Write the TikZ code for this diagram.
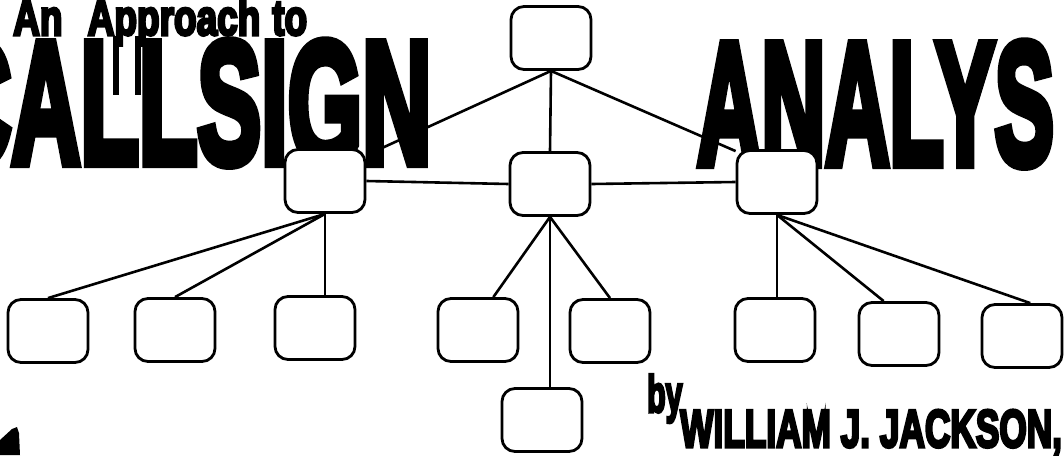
\documentclass[tikz,border=0pt]{standalone}
\usepackage{fontspec}
\usepackage{graphicx}
\newfontfamily\headfont[FakeBold=6]{Liberation Sans}
\pgfdeclarelayer{back}
\pgfsetlayers{back,main}
\tikzset{
  box/.style={draw, fill=white, line width=2.8pt, rounded corners=13pt, minimum width=80pt, minimum height=63pt, inner sep=0pt},
  link/.style={line width=2.6pt},
  head/.style={inner sep=0pt, anchor=base west}
}
\newcommand{\headtext}[3]{{\headfont\bfseries\fontsize{#1}{#1}\selectfont\scalebox{#2}[1]{#3}}}

\begin{document}
\begin{tikzpicture}[x=1pt,y=-1pt]
\useasboundingbox (0,0) rectangle (1064,455);

% Boxes
\node[box] (top) at (551,38) {};
\node[box] (midL) at (325,181) {};
\node[box] (midC) at (550,184) {};
\node[box] (midR) at (777,182) {};
\node[box] (B1) at (48,331) {};
\node[box] (B2) at (175,330) {};
\node[box] (B3) at (315,328) {};
\node[box] (B4) at (478,330) {};
\node[box] (B5) at (610,331) {};
\node[box] (B6) at (775,330) {};
\node[box] (B7) at (899,334) {};
\node[box] (B8) at (1022,336) {};
\node[box] (low) at (542,420) {};

\begin{pgfonlayer}{back}
\clip (0,0) rectangle (1064,455);
% Links
\draw[link] (top.south) -- ([yshift=-7pt]midL.north east);
\draw[link] (top.south) -- (midC.north);
\draw[link] (top.south) -- ([yshift=-2pt]midR.north west);
\draw[link] (midL.east) -- (midC.west);
\draw[link] (midC.east) -- (midR.west);
\draw[link] (midL.south) -- (B1.north);
\draw[link] (midL.south) -- (B2.north);
\draw[link] (midL.south) -- (midL.south |- B3.north);
\draw[link] (midC.south) -- (B4.65);
\draw[link] (midC.south) -- (B5.north);
\draw[link] (midC.south) -- (midC.south |- low.north);
\draw[link] (midR.south) -- (midR.south |- B6.north);
\draw[link] (midR.south) -- (B7.115);
\draw[link] (midR.south) -- (B8.76);

% Title
\node[head] (approach) at (13,35) {\headtext{50}{0.74}{An\hspace{34pt}Approach\hspace{16pt}to}};
\fill (113,36) rectangle (119,95);
\fill (135,36) rectangle (141,95);
\node[head] (callsign) at (-58,163) {\headtext{174}{0.55}{CALLSIGN}};
\node[head] (analys) at (697,164) {\headtext{174}{0.51}{ANALYS}};

% Author
\node[head] (by) at (647,412) {\headtext{52}{0.58}{by}};
\node[head] (author) at (680,447) {\headtext{53}{0.665}{WILLIAM J. JACKSON,}};
\fill (0,440) -- (12,429) -- (17,427) -- (19,433) -- (20,455) -- (0,455) -- cycle;
\end{pgfonlayer}
\end{tikzpicture}
\end{document}
